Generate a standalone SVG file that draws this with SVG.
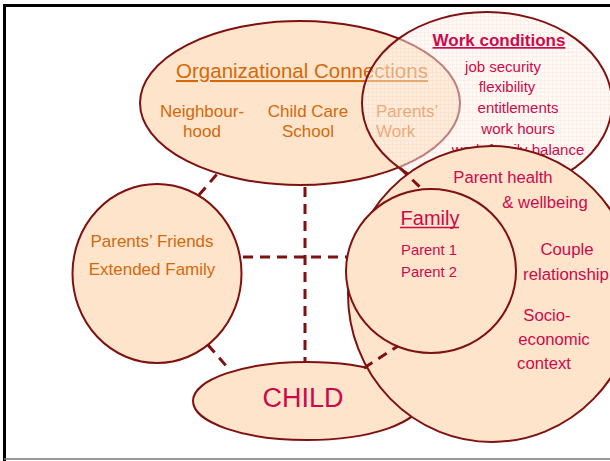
<svg xmlns="http://www.w3.org/2000/svg" width="610" height="461" viewBox="0 0 610 461">
<defs>
<pattern id="grid" width="4" height="4" patternUnits="userSpaceOnUse">
<rect width="4" height="4" fill="#FFF6EF"/>
<path d="M0 0.5H4M0.5 0V4" stroke="#FBE0D2" stroke-width="1"/>
</pattern>
</defs>
<style>
.sh{fill:#FDE4CB;stroke:#7F1111;stroke-width:2}
.org{font-family:"Liberation Sans",Arial,sans-serif;fill:#D4690A;text-anchor:middle}
.red{font-family:"Liberation Sans",Arial,sans-serif;fill:#CC0A4B;text-anchor:middle}
.start{text-anchor:start}
.dash{stroke:#7F1111;stroke-width:3;stroke-dasharray:10 7;fill:none}
</style>
<rect width="610" height="461" fill="#fff"/>
<path d="M4.5 461V5.5H610" fill="none" stroke="#000" stroke-width="3"/>
<line x1="4" y1="459" x2="610" y2="459" stroke="#777" stroke-width="1.5"/>

<g id="org">
<ellipse class="sh" cx="300" cy="103" rx="160" ry="82"/>
<text class="org" x="302" y="78" font-size="20.5" text-decoration="underline">Organizational Connections</text>
<text class="org" x="202" y="117" font-size="17">Neighbour-</text>
<text class="org" x="202" y="137" font-size="17">hood</text>
<text class="org" x="308" y="117" font-size="17">Child Care</text>
<text class="org" x="308" y="137" font-size="17">School</text>
<text class="org start" x="376" y="117" font-size="17">Parents’</text>
<text class="org start" x="376" y="137" font-size="17">Work</text>
</g>

<g id="work">
<ellipse cx="487" cy="103" rx="125" ry="91" fill="url(#grid)" fill-opacity="0.5" stroke="#7F1111" stroke-width="2"/>
<text class="red" x="499" y="46" font-size="17" font-weight="bold" text-decoration="underline">Work conditions</text>
<text class="red" x="503" y="72" font-size="15">job security</text>
<text class="red" x="507" y="92" font-size="15">flexibility</text>
<text class="red" x="518" y="113" font-size="15">entitlements</text>
<text class="red" x="518" y="134" font-size="15">work hours</text>
<text class="red" x="518" y="155" font-size="15">work-family balance</text>
</g>

<g id="friends">
<ellipse class="sh" cx="157" cy="273.5" rx="84.5" ry="89.5"/>
<text class="org" x="152" y="247" font-size="17">Parents’ Friends</text>
<text class="org" x="152" y="275" font-size="17">Extended Family</text>
</g>

<g id="child">
<ellipse class="sh" cx="307" cy="401" rx="114" ry="39"/>
<text class="red" x="303" y="407" font-size="27">CHILD</text>
</g>

<g id="context">
<ellipse class="sh" cx="492" cy="294" rx="144" ry="148"/>
<text class="red" x="503" y="183" font-size="16.7">Parent health</text>
<text class="red" x="545" y="208" font-size="16.7">&amp; wellbeing</text>
<text class="red" x="567" y="255" font-size="16.8">Couple</text>
<text class="red" x="566" y="280" font-size="16.8">relationship</text>
<text class="red" x="547" y="321" font-size="16.7">Socio-</text>
<text class="red" x="554" y="345" font-size="16.7">economic</text>
<text class="red" x="544" y="369" font-size="16.7">context</text>
</g>

<g id="family">
<ellipse class="sh" cx="431" cy="271" rx="85" ry="82"/>
<text class="red" x="430" y="225" font-size="20">Family</text>
<text class="red" x="429" y="255" font-size="14.8">Parent 1</text>
<text class="red" x="429" y="277" font-size="14.8">Parent 2</text>
<line x1="400" y1="227.5" x2="459" y2="227.5" stroke="#CC0A4B" stroke-width="1.5"/>
</g>

<g id="connectors">
<line class="dash" x1="305" y1="187" x2="305" y2="362"/>
<line class="dash" x1="243" y1="257" x2="348" y2="257"/>
<line class="dash" x1="199" y1="195" x2="218" y2="173"/>
<line class="dash" x1="208" y1="345" x2="228" y2="368"/>
<line class="dash" x1="400" y1="168" x2="423" y2="190"/>
<line class="dash" x1="364" y1="368" x2="398" y2="346"/>
</g>
</svg>
